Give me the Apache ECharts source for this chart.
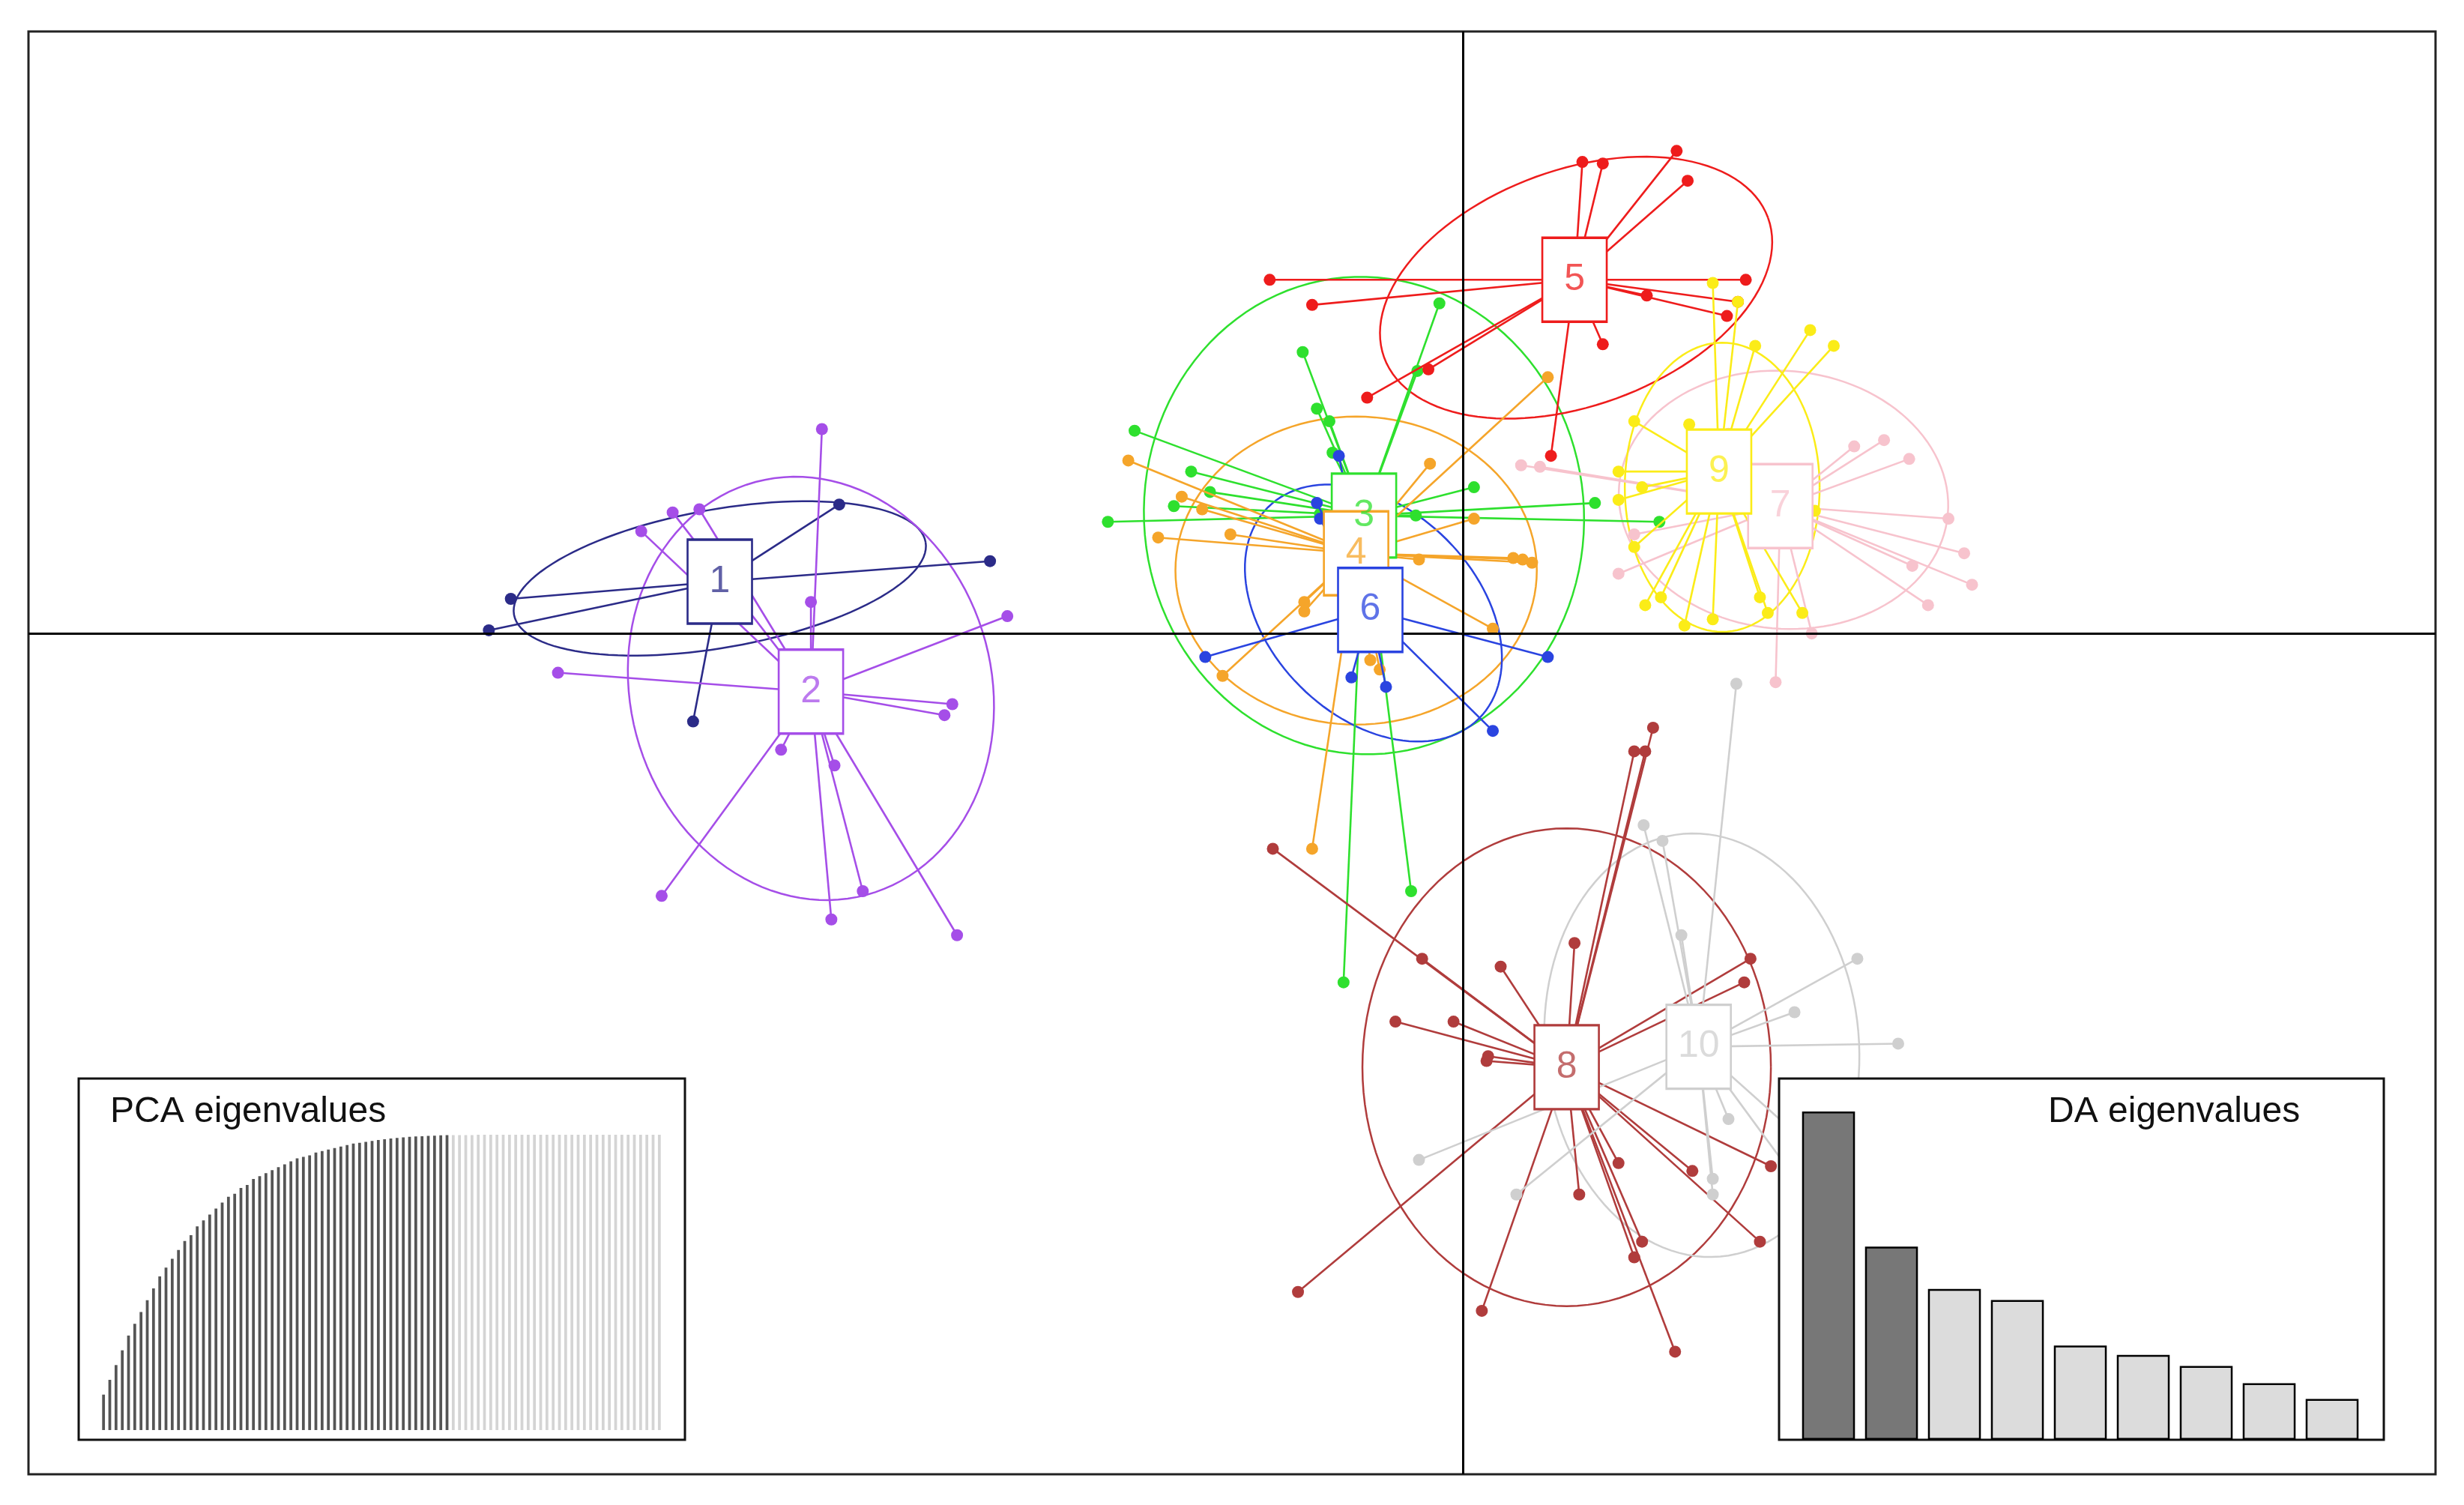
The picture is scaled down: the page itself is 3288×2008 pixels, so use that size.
<!DOCTYPE html>
<html><head><meta charset="utf-8">
<script src="https://cdn.jsdelivr.net/npm/echarts@6/dist/echarts.min.js"></script>
<style>html,body{margin:0;background:#fff}#c{width:3288px;height:2008px}</style>
</head><body><div id="c"></div>
<script>
const groupNames = ['1','2','3','4','5','6','7','8','9','10'];
const groupColors = ['#2b2b88','#a54ee8','#2ee02e','#f5a52a','#ee1c1c','#2a44e0','#f7c3cd','#b03c3c','#fbec18','#cfcfcf'];
const centroids = [[458,370],[516,440],[868,328],[863,352],[1002,178],[872,388],[1133,322],[997,679],[1094,300],[1081,666]];
const ellipseCenters = [[458,368],[516,438],[868,328],[863,363],[1003,183],[874,390],[1135,318],[997,679],[1096,310],[1083,665]];
const ellipseRadii = [[133,44],[115,136],[140,152],[115,98],[130,75],[95,66],[105,82],[130,152],[62,92],[100,135]];
const ellipseAngles = [-10,-15,-5,0,-20,45,5,0,0,-5];
const g1 = [[325,381],[311,401],[534,321],[630,357],[441,459]];
const g2 = [[523,273],[516,383],[641,392],[355,428],[606,448],[601,455],[497,477],[531,487],[421,570],[529,585],[549,567],[609,595],[408,338],[428,326],[445,324]];
const g3 = [[705,332],[722,274],[758,300],[747,322],[770,313],[829,224],[838,260],[846,268],[848,288],[916,193],[902,236],[852,332],[901,328],[938,310],[1015,320],[1056,332],[855,625],[898,567],[840,327]];
const g4 = [[718,293],[752,316],[765,324],[783,340],[737,342],[910,295],[938,330],[963,355],[969,356],[975,358],[872,420],[878,426],[835,540],[778,430],[830,383],[830,389],[985,240],[950,400],[903,356]];
const g5 = [[1007,103],[1020,104],[1067,96],[1074,115],[808,178],[835,194],[1111,178],[1048,188],[1106,192],[1099,201],[1020,219],[987,290],[909,235],[870,253]];
const g6 = [[767,418],[838,320],[985,418],[852,290],[860,431],[882,437],[950,465],[840,330]];
const g7 = [[968,296],[980,297],[1199,280],[1215,292],[1240,330],[1250,352],[1255,372],[1227,385],[1217,360],[1130,434],[1153,403],[1030,365],[1040,340],[1100,276],[1180,284]];
const g8 = [[810,540],[1052,463],[1047,478],[1040,478],[905,610],[955,615],[888,650],[925,650],[947,672],[946,675],[1002,600],[1114,610],[1110,625],[1005,760],[1030,740],[1077,745],[1066,860],[1120,790],[1127,742],[943,834],[826,822],[1045,790],[1040,800]];
const g9 = [[1090,180],[1106,192],[1117,220],[1152,210],[1167,220],[1040,268],[1030,300],[1045,310],[1075,270],[1047,385],[1057,380],[1072,398],[1090,394],[1120,380],[1125,390],[1147,390],[1155,325],[1040,348],[1030,318]];
const g10 = [[1105,435],[1046,525],[1070,595],[1058,535],[1182,610],[1208,664],[1142,644],[1138,717],[1090,750],[1090,760],[903,738],[965,760],[1100,712],[1150,760]];
const groupPoints = [g1,g2,g3,g4,g5,g6,g7,g8,g9,g10];
const pcaDark = [0.12,0.17,0.22,0.27,0.32,0.36,0.40,0.44,0.48,0.52,0.55,0.58,0.61,0.64,0.66,0.69,0.71,0.73,0.75,0.77,0.79,0.80,0.82,0.83,0.85,0.86,0.87,0.88,0.89,0.90,0.91,0.92,0.925,0.93,0.94,0.945,0.95,0.955,0.96,0.965,0.97,0.973,0.976,0.979,0.982,0.985,0.987,0.989,0.991,0.993,0.994,0.995,0.996,0.997,0.998,0.999];
const pcaLight = [0.999,0.999,0.999,0.999,1,1,1,1,1,1,1,1,1,1,1,1,1,1,1,1,1,1,1,1,1,1,1,1,1,1,1,1,1,1];
const daValues = [209,123,96,89,60,54,47,36,26];
const daRetained = 2;

const chart = echarts.init(document.getElementById('c'));
const series = [];
groupNames.forEach((n,i)=>{
  const col = groupColors[i];
  series.push({type:'custom', xAxisIndex:0, yAxisIndex:0, z:2, silent:true,
    data:[[ellipseCenters[i][0],ellipseCenters[i][1]]],
    renderItem:(p,api)=>{
      const [cx,cy]=ellipseCenters[i],[rx,ry]=ellipseRadii[i],a=ellipseAngles[i]*Math.PI/180;
      const pts=[];
      for(let k=0;k<=120;k++){const t=k/120*2*Math.PI;const x=rx*Math.cos(t),y=ry*Math.sin(t);
        pts.push(api.coord([cx+x*Math.cos(a)-y*Math.sin(a), cy+x*Math.sin(a)+y*Math.cos(a)]));}
      return {type:'polyline',shape:{points:pts},style:{stroke:col,lineWidth:2.5,fill:null}};
    }});
  series.push({type:'custom', xAxisIndex:0, yAxisIndex:0, z:3, silent:true,
    data:groupPoints[i],
    renderItem:(p,api)=>{
      const c=api.coord(centroids[i]), q=api.coord([api.value(0),api.value(1)]);
      return {type:'group',children:[
        {type:'line',shape:{x1:c[0],y1:c[1],x2:q[0],y2:q[1]},style:{stroke:col,lineWidth:2.6}},
        {type:'circle',shape:{cx:q[0],cy:q[1],r:8},style:{fill:col}}]};
    }});
});
series.push({type:'scatter', xAxisIndex:0, yAxisIndex:0, z:10, symbol:'rect', symbolSize:[86,112],
  data:centroids.map((c,i)=>({value:c,name:groupNames[i],
    itemStyle:{color:'#fff',opacity:1,borderColor:groupColors[i],borderWidth:3},
    label:{show:true,position:'inside',formatter:groupNames[i],color:groupColors[i],opacity:0.75,fontSize:50,fontFamily:'Liberation Sans'}})),
  markLine:{silent:true,symbol:'none',label:{show:false},lineStyle:{color:'#000',width:3,type:'solid'},
    data:[{xAxis:931},{yAxis:403}]}});
series.push({type:'bar', xAxisIndex:1, yAxisIndex:1, barWidth:'45%', zlevel:1,
  data:pcaDark.map(v=>({value:v,itemStyle:{color:'#555'}})).concat(pcaLight.map(v=>({value:v,itemStyle:{color:'#d4d4d4'}})))});
series.push({type:'bar', xAxisIndex:2, yAxisIndex:2, barCategoryGap:'16%', zlevel:1,
  data:daValues.map((v,i)=>({value:v,itemStyle:{color:i<daRetained?'#777':'#dcdcdc',borderColor:'#000',borderWidth:2.5}}))});

const hid = {show:false};
chart.setOption({
  animation:false, backgroundColor:'#fff',
  grid:[
    {left:38,top:42,width:3212,height:1925,show:true,borderColor:'#222',borderWidth:3,backgroundColor:'#fff'},
    {left:134,top:1514,width:750,height:394},
    {left:2398,top:1483,width:756,height:438}
  ],
  xAxis:[
    {type:'value',gridIndex:0,min:18,max:1550,...hid},
    {type:'category',gridIndex:1,data:pcaDark.concat(pcaLight).map((v,i)=>String(i+1)),...hid},
    {type:'category',gridIndex:2,data:daValues.map((v,i)=>String(i+1)),...hid}
  ],
  yAxis:[
    {type:'value',gridIndex:0,min:20,max:938,inverse:true,...hid},
    {type:'value',gridIndex:1,min:0,max:1,...hid},
    {type:'value',gridIndex:2,min:0,max:209,...hid}
  ],
  graphic:[
    {type:'rect',z:50,shape:{x:105,y:1439,width:809,height:482},style:{fill:'#fff',stroke:'#111',lineWidth:3}},
    {type:'text',z:51,left:147,top:1460,style:{text:'PCA eigenvalues',fontSize:48,fontFamily:'Liberation Sans',fill:'#111'}},
    {type:'rect',z:50,shape:{x:2374,y:1439,width:807,height:482},style:{fill:'#fff',stroke:'#111',lineWidth:3}},
    {type:'text',z:51,left:2733,top:1460,style:{text:'DA eigenvalues',fontSize:48,fontFamily:'Liberation Sans',fill:'#111'}}
  ],
  series
});
</script></body></html>
